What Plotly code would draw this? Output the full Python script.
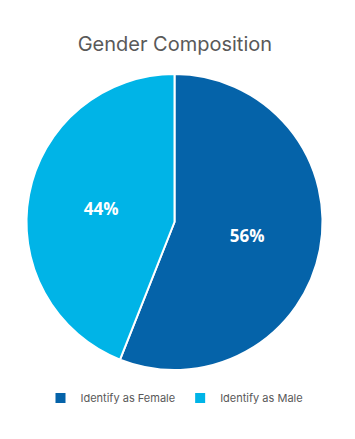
import plotly.graph_objects as go

labels = ["Identify as Female", "Identify as Male"]
values = [56, 44]
colors = ["#0563A9", "#00B4E7"]

fig = go.Figure(go.Pie(
    labels=labels,
    values=values,
    sort=False,
    direction="clockwise",
    rotation=0,
    marker=dict(colors=colors, line=dict(color="white", width=2)),
    textinfo="percent",
    texttemplate="%{percent:.0%}",
    textposition="inside",
    insidetextorientation="horizontal",
    textfont=dict(family="Open Sans, Arial", size=17, color="white", weight="bold"),
    hoverinfo="label+percent",
))

fig.update_layout(
    width=355, height=439,
    margin=dict(l=18, r=40, t=66, b=77),
    paper_bgcolor="white",
    plot_bgcolor="white",
    title=dict(text="Gender Composition", x=0.47, xanchor="center", y=0.918, yanchor="middle",
               font=dict(family="Inter, Open Sans, Arial", size=20, color="#595959")),
    legend=dict(orientation="h", x=0.5, xanchor="center", y=-0.095, yanchor="middle",
                font=dict(family="Inter, Open Sans, Arial", size=11, color="#595959"),
                itemclick=False),
    showlegend=True,
)

fig.write_html("out.html")
